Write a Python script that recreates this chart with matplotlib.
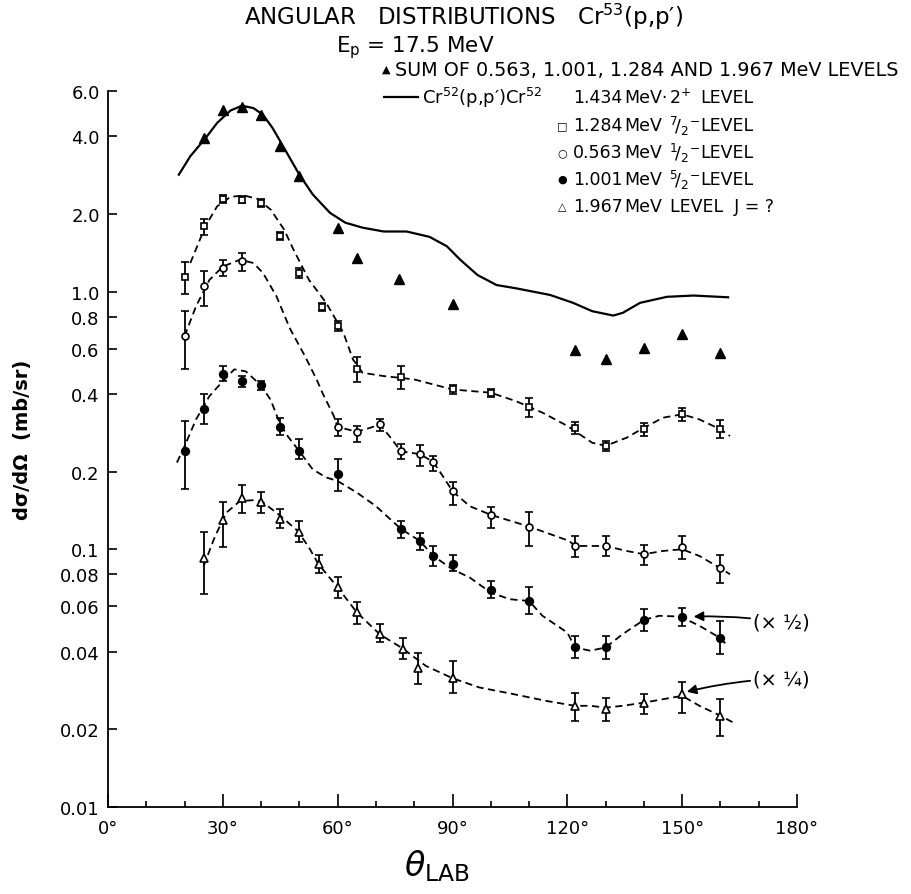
import numpy as np
import matplotlib
matplotlib.use('Agg')
import matplotlib.pyplot as plt
from matplotlib.lines import Line2D
from matplotlib.ticker import FixedLocator, NullLocator

# Cr53(p,p') angular distributions, Ep = 17.5 MeV

# sum of the four levels (filled triangles)
sum_ang = [25, 30, 35, 40, 45, 50, 60, 65, 76, 90, 122, 130, 140, 150, 160]
sum_val = [3.94, 5.07, 5.2, 4.85, 3.66, 2.8, 1.77, 1.35, 1.12, 0.896, 0.592, 0.548, 0.605, 0.687, 0.579]

# Cr52 1.434 MeV 2+ curve (solid)
cr52_ang = [18.5, 21.5, 25.5, 28.5, 32, 35, 38, 40.5, 43, 46.5, 50, 53.5, 58, 62, 66.5, 72,
            78, 84, 88.5, 92, 96.5, 101.5, 106.5, 115.5, 121.5, 126.5, 132, 134.5, 139, 146, 153, 162]
cr52_val = [2.84, 3.35, 3.94, 4.51, 5.04, 5.26, 5.15, 4.85, 4.31, 3.5, 2.84, 2.38, 2.02, 1.85, 1.77, 1.71,
            1.71, 1.63, 1.5, 1.33, 1.16, 1.06, 1.03, 0.97, 0.904, 0.839, 0.807, 0.827, 0.904, 0.954, 0.965, 0.95]

# 1.284 MeV 7/2- (open squares)
sq_ang = [20, 25, 30, 35, 40, 45, 50, 56, 60, 65, 76.5, 90, 100, 110, 122, 130, 140, 150, 160]
sq_val = [1.14, 1.80, 2.29, 2.27, 2.21, 1.64, 1.18, 0.872, 0.738, 0.499, 0.467, 0.417, 0.405, 0.356, 0.296, 0.252, 0.292, 0.334, 0.292]
sq_lo = [0.98, 1.66, 2.21, 2.20, 2.13, 1.58, 1.13, 0.84, 0.705, 0.445, 0.417, 0.40, 0.39, 0.326, 0.279, 0.241, 0.275, 0.315, 0.27]
sq_hi = [1.30, 1.91, 2.37, 2.34, 2.29, 1.70, 1.23, 0.905, 0.77, 0.555, 0.514, 0.435, 0.42, 0.385, 0.311, 0.263, 0.31, 0.354, 0.316]
sq_fit_ang = [21.5, 25.5, 28.5, 32, 35.5, 39, 42.5, 46, 48.5, 52.5, 57, 61.5, 64, 66.5, 72, 80, 90, 100,
              106.5, 113.5, 120, 126.5, 130, 135.5, 140, 145, 150, 154.5, 160, 162.5]
sq_fit_val = [1.29, 1.80, 2.14, 2.33, 2.36, 2.29, 2.08, 1.74, 1.45, 1.11, 0.904, 0.692, 0.545, 0.484, 0.47, 0.456, 0.417, 0.405,
              0.376, 0.339, 0.301, 0.259, 0.252, 0.271, 0.296, 0.324, 0.334, 0.319, 0.292, 0.275]

# 0.563 MeV 1/2- (open circles)
oc_ang = [20, 25, 30, 35, 60, 65, 71, 76.5, 81.5, 85, 90, 100, 110, 122, 130, 140, 150, 160]
oc_val = [0.671, 1.05, 1.23, 1.31, 0.298, 0.286, 0.305, 0.24, 0.234, 0.218, 0.168, 0.136, 0.1225, 0.103, 0.103, 0.0957, 0.102, 0.0844]
oc_lo = [0.499, 0.877, 1.146, 1.199, 0.275, 0.261, 0.288, 0.224, 0.211, 0.201, 0.149, 0.121, 0.103, 0.093, 0.094, 0.0868, 0.092, 0.0741]
oc_hi = [0.839, 1.20, 1.33, 1.41, 0.321, 0.301, 0.321, 0.257, 0.253, 0.231, 0.183, 0.146, 0.14, 0.1125, 0.1125, 0.1036, 0.1125, 0.0947]
oc_fit_ang = [20, 23, 26.5, 30, 34.5, 38, 40.5, 44, 47.5, 51.5, 54.5, 56, 59, 60, 62.5, 65, 68.5, 71, 73.5, 76.5,
              81.5, 85, 87.5, 90, 94.5, 100, 110, 120.5, 122, 130, 135.5, 140, 145, 150, 154.5, 160, 162.5]
oc_fit_val = [0.671, 0.877, 1.11, 1.25, 1.33, 1.29, 1.18, 0.959, 0.72, 0.56, 0.456, 0.405, 0.329, 0.298, 0.292, 0.286, 0.296, 0.305, 0.275, 0.24,
              0.234, 0.218, 0.192, 0.168, 0.147, 0.136, 0.1225, 0.1077, 0.103, 0.103, 0.0985, 0.0957, 0.0985, 0.1, 0.0942, 0.0844, 0.08]

# 1.001 MeV 5/2- (filled circles, x 1/2)
fc_ang = [20, 25, 30, 35, 40, 45, 50, 60, 76.5, 81.5, 85, 90, 100, 110, 122, 130, 140, 150, 160]
fc_val = [0.24, 0.351, 0.477, 0.449, 0.432, 0.299, 0.24, 0.196, 0.12, 0.1077, 0.0942, 0.088, 0.0694, 0.063, 0.0416, 0.0416, 0.0532, 0.0548, 0.0452]
fc_lo = [0.171, 0.305, 0.449, 0.427, 0.414, 0.277, 0.224, 0.169, 0.111, 0.0994, 0.0858, 0.0823, 0.0645, 0.0561, 0.0377, 0.0376, 0.0483, 0.0506, 0.0393]
fc_hi = [0.314, 0.399, 0.513, 0.472, 0.451, 0.324, 0.267, 0.225, 0.1285, 0.1155, 0.103, 0.0947, 0.0751, 0.0717, 0.0461, 0.0459, 0.0585, 0.0594, 0.0525]
fc_fit_ang = [18, 20, 23, 26.5, 30, 33, 36, 40, 42.5, 45, 47, 50, 53.5, 57, 60, 65, 70, 76.5, 81.5, 85,
              90, 94.5, 100, 105, 110, 113.5, 120, 122, 126, 130, 134.5, 140, 144, 149.5, 154.5, 160, 162]
fc_fit_val = [0.217, 0.251, 0.319, 0.393, 0.449, 0.499, 0.49, 0.432, 0.38, 0.305, 0.274, 0.24, 0.204, 0.19, 0.184, 0.166, 0.147, 0.12, 0.1077, 0.0942,
              0.0836, 0.0777, 0.0679, 0.064, 0.063, 0.0552, 0.0475, 0.0416, 0.0404, 0.0416, 0.0469, 0.0532, 0.0552, 0.0548, 0.0505, 0.0452, 0.042]

# 1.967 MeV J=? (open triangles, x 1/4)
ot_ang = [25, 30, 35, 40, 45, 50, 55, 60, 65, 71, 77, 81, 90, 122, 130, 140, 150, 160]
ot_val = [0.0923, 0.1296, 0.158, 0.152, 0.131, 0.117, 0.0875, 0.0711, 0.0569, 0.0468, 0.0412, 0.0345, 0.0316, 0.0247, 0.0239, 0.0254, 0.0275, 0.0226]
ot_lo = [0.0669, 0.102, 0.138, 0.138, 0.121, 0.1065, 0.0812, 0.0649, 0.0515, 0.0436, 0.0375, 0.0300, 0.0276, 0.0215, 0.0215, 0.0229, 0.0232, 0.0188]
ot_hi = [0.117, 0.152, 0.177, 0.167, 0.143, 0.1285, 0.0949, 0.0782, 0.0625, 0.0515, 0.0451, 0.0396, 0.0369, 0.0277, 0.0265, 0.0275, 0.0305, 0.0263]
ot_fit_ang = [25, 28, 31, 34.5, 38, 40.5, 45, 49.5, 52.5, 55, 60, 65, 71, 77, 83, 90, 97, 106, 114.5,
              122, 126, 130, 134.5, 140, 145, 150, 154.5, 160, 163.5]
ot_fit_val = [0.0862, 0.1127, 0.139, 0.154, 0.155, 0.152, 0.135, 0.118, 0.1016, 0.0875, 0.0711, 0.0569, 0.0468, 0.0412, 0.0353, 0.0316, 0.0291, 0.0274, 0.0258,
              0.0247, 0.0247, 0.0243, 0.0247, 0.0254, 0.0262, 0.027, 0.0247, 0.0226, 0.0212]

y_ticks = [0.01, 0.02, 0.04, 0.06, 0.08, 0.1, 0.2, 0.4, 0.6, 0.8, 1.0, 2.0, 4.0, 6.0]
y_labels = ['0.01', '0.02', '0.04', '0.06', '0.08', '0.1', '0.2', '0.4', '0.6', '0.8', '1.0', '2.0', '4.0', '6.0']
x_ticks = [0, 30, 60, 90, 120, 150, 180]
x_labels = ['0°', '30°', '60°', '90°', '120°', '150°', '180°']

plt.rcParams['font.family'] = ['DejaVu Sans']
plt.rcParams['mathtext.default'] = 'regular'

W, H = 911, 895
fig = plt.figure(figsize=(W / 100, H / 100), dpi=100)
ax = fig.add_axes([108 / W, 1 - 808 / H, 689 / W, 716 / H])

def fx(x):
    return x / W

def fy(y):
    return 1 - y / H

dash = (0, (4, 2.5))
ax.plot(cr52_ang, cr52_val, color='k', lw=1.6, zorder=2)
ax.plot(sum_ang, sum_val, linestyle='none', marker='^', color='k', ms=6.5, zorder=4)

for a, v in [(sq_fit_ang, sq_fit_val), (oc_fit_ang, oc_fit_val),
             (fc_fit_ang, fc_fit_val), (ot_fit_ang, ot_fit_val)]:
    ax.plot(a, v, color='k', lw=1.3, ls=dash, zorder=2)

series = [
    (sq_ang, sq_val, sq_lo, sq_hi, 's', 'white', 3.8),
    (oc_ang, oc_val, oc_lo, oc_hi, 'o', 'white', 5),
    (fc_ang, fc_val, fc_lo, fc_hi, 'o', 'black', 5.5),
    (ot_ang, ot_val, ot_lo, ot_hi, '^', 'white', 6),
]
for a, v, lo, hi, m, fc, ms in series:
    v = np.array(v)
    err = [v - np.array(lo), np.array(hi) - v]
    ax.errorbar(a, v, yerr=err, fmt=m, mfc=fc, mec='k', mew=1.2, ms=ms,
                ecolor='k', elinewidth=1.3, capsize=3, capthick=1.3, zorder=3)

ax.set_yscale('log')
ax.set_xlim(0, 180)
ax.set_ylim(0.01, 6.0)
ax.yaxis.set_major_locator(FixedLocator(y_ticks))
ax.yaxis.set_minor_locator(NullLocator())
ax.set_yticklabels(y_labels)
ax.set_xticks(x_ticks)
ax.set_xticklabels(x_labels)
ax.set_xticks([t for t in range(10, 180, 10) if t % 30 != 0], minor=True)

ax.tick_params(axis='y', which='major', direction='in', length=6.5, width=1.2, labelsize=13, pad=6)
ax.tick_params(axis='x', which='major', direction='in', length=9.5, width=1.2, labelsize=13, pad=9)
ax.tick_params(axis='x', which='minor', direction='in', length=4, width=1.2)
for s in ['top', 'right']:
    ax.spines[s].set_visible(False)
for s in ['left', 'bottom']:
    ax.spines[s].set_linewidth(1.3)

# annotations
ax.annotate('(× ½)', xy=(153, 0.0548), xytext=(168.5, 0.052), fontsize=14,
            va='center', ha='left',
            arrowprops=dict(arrowstyle='-|>', color='k', lw=1.3, shrinkA=0, shrinkB=0,
                            connectionstyle='arc3,rad=0.05'))
ax.annotate('(× ¼)', xy=(151.2, 0.028), xytext=(168.5, 0.0315), fontsize=14,
            va='center', ha='left',
            arrowprops=dict(arrowstyle='-|>', color='k', lw=1.3, shrinkA=0, shrinkB=0,
                            connectionstyle='arc3,rad=0.05'))

# axis labels
fig.text(fx(437), fy(866), r'$\mathit{\theta}_{LAB}$', fontsize=24, ha='center', va='center')
fig.text(fx(23), fy(440), 'dσ/dΩ  (mb/sr)', rotation=90, fontsize=14, fontweight='bold',
         ha='center', va='center')

# title
fig.text(fx(464), fy(17), 'ANGULAR   DISTRIBUTIONS   Cr$^{53}$(p,p′)', fontsize=16.5, ha='center', va='center')
fig.text(fx(415), fy(48), 'E$_{p}$ = 17.5 MeV', fontsize=15.5, ha='center', va='center')

# legend
fs = 12.5
rows = [70, 98, 126, 153, 180, 207]
fig.text(fx(386), fy(rows[0]), '▲', fontsize=8, ha='center', va='center')
fig.text(fx(395), fy(rows[0]), 'SUM OF 0.563, 1.001, 1.284 AND 1.967 MeV LEVELS', fontsize=13.8, ha='left', va='center')
fig.add_artist(Line2D([fx(384), fx(418)], [fy(rows[1]), fy(rows[1])], color='k', lw=1.6))
fig.text(fx(422), fy(rows[1]), 'Cr$^{52}$(p,p′)Cr$^{52}$', fontsize=13, ha='left', va='center')
keys = ['', '□', '○', '●', '△']
nums = ['1.434', '1.284', '0.563', '1.001', '1.967']
spins = ['2$^{+}$', '${}^{7}\\!/_{2}{}^{-}$', '${}^{1}\\!/_{2}{}^{-}$', '${}^{5}\\!/_{2}{}^{-}$', '']
for i in range(5):
    y = fy(rows[i + 1])
    if keys[i]:
        fig.text(fx(562), y, keys[i], fontsize=8, ha='center', va='center')
    fig.text(fx(573), y, nums[i], fontsize=fs, ha='left', va='center')
    fig.text(fx(624), y, 'MeV' + ('·' if i == 0 else ''), fontsize=fs, ha='left', va='center')
    if spins[i]:
        fig.text(fx(669), y, spins[i], fontsize=fs, ha='left', va='center')
        fig.text(fx(700), y, 'LEVEL', fontsize=fs, ha='left', va='center')
    else:
        fig.text(fx(670), y, 'LEVEL  J = ?', fontsize=fs, ha='left', va='center')

fig.savefig('out.png', dpi=100)
